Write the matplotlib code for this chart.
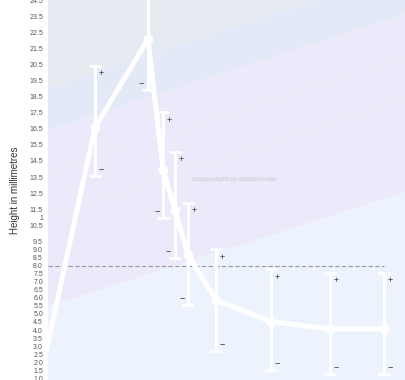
import numpy as np
import matplotlib
matplotlib.use("Agg")
import matplotlib.pyplot as plt
import matplotlib.patheffects as pe

# ---- data ----
x_vals = [-0.35, 3.5, 7.44, 8.56, 9.45, 10.42, 12.5, 16.6, 20.98, 25.0]
heights = [1.86, 16.59, 22.07, 13.96, 11.45, 8.66, 5.86, 4.52, 4.06, 4.06]
err_plus = [np.nan, 3.83, 3.3, 3.56, 3.61, 3.23, 3.15, 3.25, 3.50, 3.50]
err_minus = [np.nan, 3.01, 3.16, 3.00, 2.98, 3.10, 3.15, 3.00, 2.79, 2.79]
minus_side = ["r", "r", "l", "l", "l", "l", "r", "r", "r", "r"]
ref_level = 8.0
tick_values = [1.0, 1.5, 2.0, 2.5, 3.0, 3.5, 4.0, 4.5, 5.0, 5.5, 6.0, 6.5, 7.0,
               7.5, 8.0, 8.5, 9.0, 9.5, 10.5, 11.0, 11.5, 12.5, 13.5, 14.5,
               15.5, 16.5, 17.5, 18.5, 19.5, 20.5, 21.5, 22.5, 23.5, 24.5]
tick_labels = ["1.0", "1.5", "2.0", "2.5", "3.0", "3.5", "4.0", "4.5", "5.0",
               "5.5", "6.0", "6.5", "7.0", "7.5", "8.0", "8.5", "9.0", "9.5",
               "10.5", "1", "11.5", "12.5", "13.5", "14.5", "15.5", "16.5",
               "17.5", "18.5", "19.5", "20.5", "21.5", "22.5", "23.5", "24.5"]
y_label = "Height in millimetres"
watermark = "Imagen protegida por derechos de autor"

fig = plt.figure(figsize=(4.06, 3.80), dpi=100)
ax = fig.add_axes([48 / 406, 0, 1 - 48 / 406, 1])
ax.set_xlim(0, 26.64)
ax.set_ylim(0.894, 24.5)

# ---- background bands (axes coords) ----
T = ax.transAxes
bands = [
    ([(0, 0.770), (1, 1.076), (1, 1.2), (0, 1.2)], "#e5ebf0"),
    ([(0, 0.657), (1, 0.963), (1, 1.076), (0, 0.770)], "#e3e9f7"),
    ([(0, 0.193), (1, 0.494), (1, 0.963), (0, 0.657)], "#ebe9fa"),
    ([(0, -0.2), (1, -0.2), (1, 0.494), (0, 0.193)], "#edf3fc"),
]
for pts, col in bands:
    ax.add_patch(plt.Polygon(pts, closed=True, transform=T, facecolor=col,
                             edgecolor="none", zorder=0))
for (y0, y1) in [(0.545, 0.85), (0.43, 0.74), (0.07, 0.37), (-0.05, 0.25)]:
    ax.plot([0, 1], [y0, y1], transform=T, color="#f1f1fb", lw=0.5, zorder=0.5)

# ---- reference line ----
ax.hlines(ref_level, 0, x_vals[-1], colors="#999999", lw=0.8,
          linestyles=(0, (4, 2)), zorder=1)

# ---- error bars and line ----
ax.errorbar(x_vals, heights, yerr=[err_minus, err_plus], fmt="none",
            ecolor="white", elinewidth=2.2, capsize=4.5, capthick=2.0,
            zorder=2, clip_on=True)
ax.plot(x_vals, heights, color="white", lw=3.6, marker="o", markersize=7,
        markeredgewidth=0, zorder=3, solid_capstyle="round")

# ---- +/- annotations ----
for xi, yi, ep, em, side in zip(x_vals, heights, err_plus, err_minus, minus_side):
    if np.isnan(ep):
        continue
    ax.annotate("+", (xi, yi + ep), xytext=(4.6, -5.6), textcoords="offset points",
                ha="center", va="center", fontsize=6.5, color="#333333",
                family="Liberation Sans", zorder=4)
    dx = 4.6 if side == "r" else -4.6
    ax.annotate("\u2212", (xi, yi - em), xytext=(dx, 5.2), textcoords="offset points",
                ha="center", va="center", fontsize=6.5, color="#333333",
                family="Liberation Sans", zorder=4)

# ---- watermark ----
ax.text((236 - 48) / 358, 1 - 179 / 380, watermark, transform=T,
        ha="center", va="center", fontsize=3.4, color="white",
        family="Liberation Sans", zorder=5,
        path_effects=[pe.withStroke(linewidth=0.5, foreground="#c8c8dc")])

# ---- axes styling ----
for s in ax.spines.values():
    s.set_visible(False)
ax.set_xticks([])
ax.set_yticks(tick_values)
ax.set_yticklabels(tick_labels, fontsize=5, color="#555555",
                   family="Liberation Sans")
ax.tick_params(axis="y", length=0, pad=3.6)
fig.text(15 / 406, 1 - 190 / 380, y_label, rotation=90, ha="center",
         va="center", fontsize=7, color="#333333", family="Liberation Sans")

fig.savefig("out.png", dpi=100)
